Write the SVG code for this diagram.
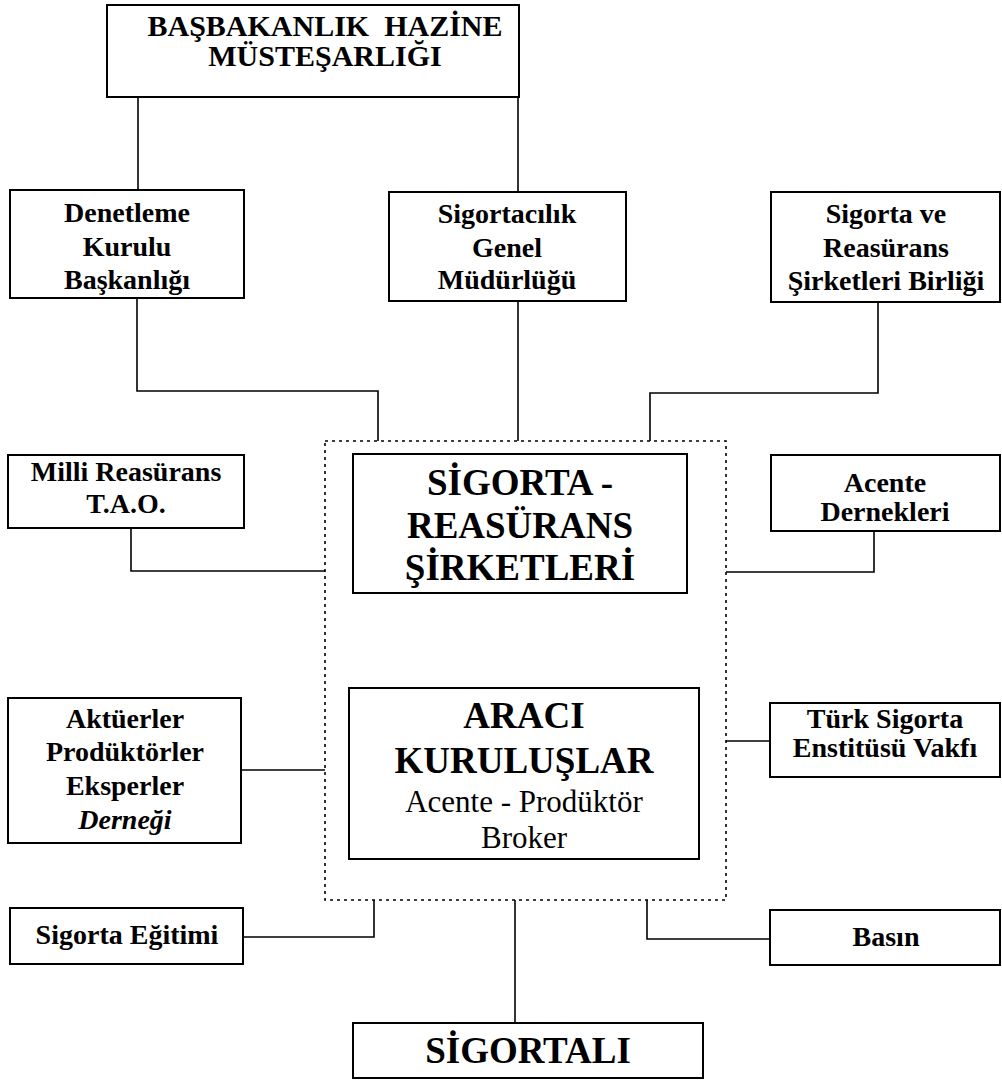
<svg xmlns="http://www.w3.org/2000/svg" width="1002" height="1081" viewBox="0 0 1002 1081">
  <style>
    .box { fill: #fff; stroke: #000; stroke-width: 2; }
    .frame { fill: none; stroke: #000; stroke-width: 1.6; stroke-dasharray: 3 4; }
    .wire { fill: none; stroke: #000; stroke-width: 1.6; }
    text { font-family: "Liberation Serif", "Times New Roman", serif; fill: #000; text-anchor: middle; }
    .t { font-size: 28px; font-weight: bold; }
    .head { font-size: 30px; font-weight: bold; }
    .big { font-size: 37px; font-weight: bold; }
    .sub { font-size: 31px; }
  </style>
  <rect width="1002" height="1081" fill="#fff"/>

  <!-- dotted frame around the market players -->
  <rect class="frame" x="325" y="441" width="401" height="459"/>

  <g id="connectors">
    <path class="wire" d="M138 97 V190"/>
    <path class="wire" d="M518 97 V192"/>
    <path class="wire" d="M137 298 V391 H378 V441"/>
    <path class="wire" d="M518 301 V441"/>
    <path class="wire" d="M878 302 V393 H650 V441"/>
    <path class="wire" d="M131 528 V571 H325"/>
    <path class="wire" d="M874 531 V572 H726"/>
    <path class="wire" d="M241 770 H325"/>
    <path class="wire" d="M726 741 H770"/>
    <path class="wire" d="M374 900 V937 H243"/>
    <path class="wire" d="M647 900 V939 H770"/>
    <path class="wire" d="M515 900 V1023"/>
  </g>

  <g id="hazine">
    <rect class="box" x="107" y="5" width="412" height="92"/>
    <text class="head" x="325" y="36" xml:space="preserve">BAŞBAKANLIK  HAZİNE</text>
    <text class="head" x="325" y="66">MÜSTEŞARLIĞI</text>
  </g>

  <g id="denetleme">
    <rect class="box" x="10" y="190" width="234" height="108"/>
    <text class="t" x="127" y="222">Denetleme</text>
    <text class="t" x="127" y="256">Kurulu</text>
    <text class="t" x="127" y="289">Başkanlığı</text>
  </g>

  <g id="genel-mudurluk">
    <rect class="box" x="389" y="192" width="237" height="109"/>
    <text class="t" x="507" y="223">Sigortacılık</text>
    <text class="t" x="507" y="257">Genel</text>
    <text class="t" x="507" y="289">Müdürlüğü</text>
  </g>

  <g id="birlik">
    <rect class="box" x="771" y="192" width="229" height="110"/>
    <text class="t" x="886" y="223">Sigorta ve</text>
    <text class="t" x="886" y="257">Reasürans</text>
    <text class="t" x="886" y="290">Şirketleri Birliği</text>
  </g>

  <g id="milli-reasurans">
    <rect class="box" x="8" y="455" width="236" height="73"/>
    <text class="t" x="126" y="481">Milli Reasürans</text>
    <text class="t" x="126" y="513">T.A.O.</text>
  </g>

  <g id="sirketler">
    <rect class="box" x="353" y="454" width="334" height="139"/>
    <text class="big" x="520" y="495">SİGORTA -</text>
    <text class="big" x="520" y="538">REASÜRANS</text>
    <text class="big" x="520" y="580">ŞİRKETLERİ</text>
  </g>

  <g id="acente-dernekleri">
    <rect class="box" x="771" y="455" width="229" height="76"/>
    <text class="t" x="885" y="492">Acente</text>
    <text class="t" x="885" y="521">Dernekleri</text>
  </g>

  <g id="aktuerler">
    <rect class="box" x="8" y="698" width="233" height="145"/>
    <text class="t" x="125" y="728">Aktüerler</text>
    <text class="t" x="125" y="761">Prodüktörler</text>
    <text class="t" x="125" y="795">Eksperler</text>
    <text class="t" x="125" y="829" font-style="italic">Derneği</text>
  </g>

  <g id="araci">
    <rect class="box" x="349" y="688" width="350" height="171"/>
    <text class="big" x="524" y="728">ARACI</text>
    <text class="big" x="524" y="773">KURULUŞLAR</text>
    <text class="sub" x="524" y="812">Acente - Prodüktör</text>
    <text class="sub" x="524" y="848">Broker</text>
  </g>

  <g id="tse-vakfi">
    <rect class="box" x="770" y="703" width="230" height="74"/>
    <text class="t" x="885" y="728">Türk Sigorta</text>
    <text class="t" x="885" y="757">Enstitüsü Vakfı</text>
  </g>

  <g id="egitim">
    <rect class="box" x="10" y="908" width="233" height="56"/>
    <text class="t" x="127" y="944">Sigorta Eğitimi</text>
  </g>

  <g id="basin">
    <rect class="box" x="770" y="910" width="230" height="55"/>
    <text class="t" x="886" y="946">Basın</text>
  </g>

  <g id="sigortali">
    <rect class="box" x="353" y="1023" width="350" height="55"/>
    <text class="big" x="528" y="1063">SİGORTALI</text>
  </g>
</svg>
